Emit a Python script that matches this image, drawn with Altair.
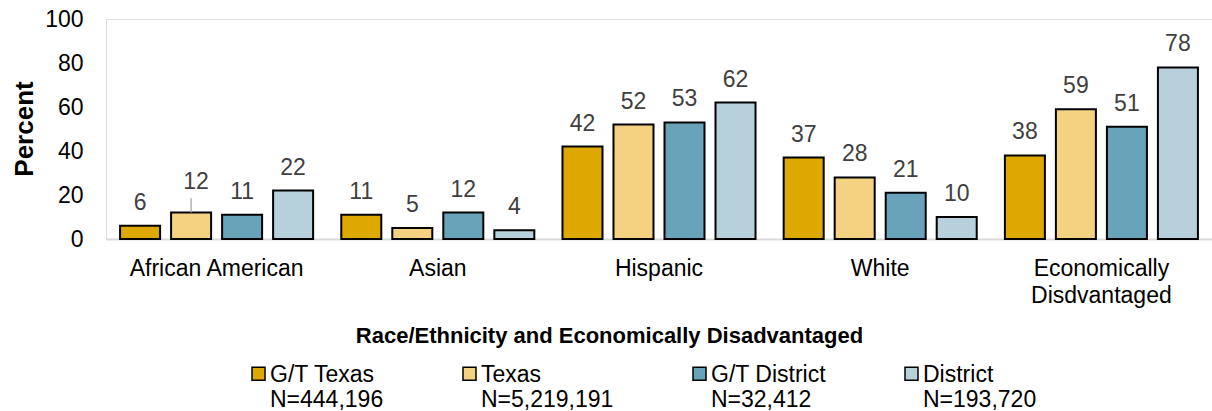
import altair as alt
import pandas as pd

# Categories, series and values
groups = ["African American", "Asian", "Hispanic", "White", "Economically Disdvantaged"]
series = ["G/T Texas", "Texas", "G/T District", "District"]
series_n = ["N=444,196", "N=5,219,191", "N=32,412", "N=193,720"]
colors = ["#DDA900", "#F4D281", "#68A3B9", "#B7D0DB"]

gt_texas = [6, 11, 42, 37, 38]
texas = [12, 5, 52, 28, 59]
gt_district = [11, 12, 53, 21, 51]
district = [22, 4, 62, 10, 78]

values_by_series = [gt_texas, texas, gt_district, district]
rows = []
for s, vals in zip(series, values_by_series):
    for g, v in zip(groups, vals):
        rows.append({"group": g, "series": s, "value": v})
df = pd.DataFrame(rows)

FONT = "Liberation Sans"
FS = 23

# Two-line labels for the legend: series name, then its N
legend_expr = "[datum.label, " + "".join(
    f"datum.label == '{s}' ? '{n}' : " for s, n in zip(series, series_n)
) + "'']"

# Break the long category name across two lines
x_label_expr = ("datum.label == 'Economically Disdvantaged' ? "
                "['Economically', 'Disdvantaged'] : datum.label")

base = alt.Chart(df).encode(
    x=alt.X(
        "group:N",
        sort=groups,
        scale=alt.Scale(paddingInner=0, paddingOuter=0),
        axis=alt.Axis(
            title="Race/Ethnicity and Economically Disadvantaged",
            titleFont=FONT, titleFontSize=22, titleFontWeight="bold",
            titleColor="black", titleX=503, titleY=103,
            titleAlign="center", titleBaseline="alphabetic",
            labelFont=FONT, labelFontSize=FS, labelColor="black",
            labelAngle=0, labelPadding=18, labelBaseline="top",
            labelLineHeight=27, labelExpr=x_label_expr, labelLimit=0,
            ticks=False, tickSize=0,
            domainColor="#D9D9D9", domainWidth=2,
        ),
    ),
    xOffset=alt.XOffset(
        "series:N", sort=series,
        scale=alt.Scale(paddingInner=0.2157, paddingOuter=0.276),
    ),
    y=alt.Y(
        "value:Q",
        scale=alt.Scale(domain=[0, 100]),
        axis=alt.Axis(
            title="Percent",
            titleFont=FONT, titleFontSize=26, titleFontWeight="bold",
            titleColor="black", titleAngle=270, titleX=-74, titleY=109.5,
            titleAlign="center", titleBaseline="alphabetic",
            values=[0, 20, 40, 60, 80, 100],
            labelFont=FONT, labelFontSize=FS, labelColor="black",
            labelPadding=23, ticks=False, tickSize=0,
            domain=False, grid=False,
        ),
    ),
)

bars = base.mark_bar(stroke="black", strokeWidth=2).encode(
    color=alt.Color(
        "series:N",
        sort=series,
        scale=alt.Scale(domain=series, range=colors),
        legend=alt.Legend(
            title=None, orient="none", legendX=141, legendY=333,
            direction="horizontal", columns=4, gridAlign="each",
            columnPadding=74, padding=0,
            labelFont=FONT, labelFontSize=FS, labelColor="black",
            labelBaseline="top", labelOffset=0,
            labelExpr=legend_expr, labelLimit=0,
            symbolType="M-1,0.54H1V2.54H-1Z", symbolSize=169,
            symbolStrokeColor="black", symbolStrokeWidth=1.5,
            symbolOpacity=1,
        ),
    )
)

leader = "datum.group == 'African American' && datum.series == 'Texas'"

value_labels = base.transform_filter(f"!({leader})").mark_text(
    font=FONT, fontSize=FS, color="#404040", baseline="alphabetic", dy=-16
).encode(text="value:Q")

# The one label lifted off its bar, with a short leader line
moved_label = base.transform_filter(leader).mark_text(
    font=FONT, fontSize=FS, color="#404040", baseline="alphabetic", dy=-24, dx=5
).encode(text="value:Q")

leader_line = base.transform_filter(leader).transform_calculate(
    top="datum.value + 6.5"
).mark_rule(color="#A6A6A6", strokeWidth=1.3).encode(y2="top:Q")

chart = alt.layer(bars, leader_line, value_labels, moved_label).properties(
    width=1106,
    height=220,
    padding={"left": 106, "top": 19, "right": 0, "bottom": 172},
    autosize=alt.AutoSizeParams(type="none"),
).configure_view(stroke=None).configure(background="white")

chart.save("out.html", embed_options={"renderer": "svg", "actions": False})
